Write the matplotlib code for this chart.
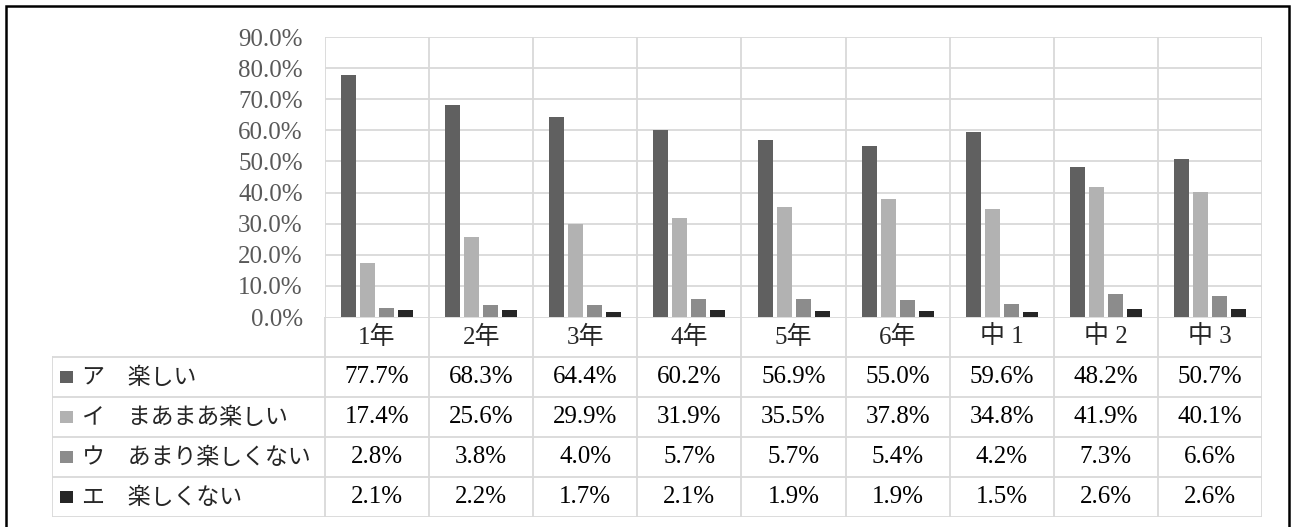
import matplotlib
matplotlib.use("Agg")
import matplotlib.pyplot as plt
from matplotlib.patches import Rectangle
import numpy as np

categories = ["1年", "2年", "3年", "4年", "5年", "6年", "中 1", "中 2", "中 3"]
series_names = ["ア　楽しい", "イ　まあまあ楽しい", "ウ　あまり楽しくない", "エ　楽しくない"]
tanoshii = [77.7, 68.3, 64.4, 60.2, 56.9, 55.0, 59.6, 48.2, 50.7]
maamaa = [17.4, 25.6, 29.9, 31.9, 35.5, 37.8, 34.8, 41.9, 40.1]
amari = [2.8, 3.8, 4.0, 5.7, 5.7, 5.4, 4.2, 7.3, 6.6]
tanoshikunai = [2.1, 2.2, 1.7, 2.1, 1.9, 1.9, 1.5, 2.6, 2.6]
series = [tanoshii, maamaa, amari, tanoshikunai]
colors = ["#606060", "#b2b2b2", "#8c8c8c", "#262626"]

W, H = 1292, 527
FONT = ["Liberation Serif", "Noto Sans CJK JP", "DejaVu Sans"]
JP = ["Noto Sans CJK JP", "DejaVu Sans"]
GRID = "#d9d9d9"

fig = plt.figure(figsize=(W / 100, H / 100), dpi=100)

# pixel layout
px_left, px_right = 325, 1262
px_top, px_zero, px_bottom = 37, 317, 517
px_tab_left = 52
unit = (px_right - px_left) / len(categories)

ax = fig.add_axes([px_left / W, (H - px_zero) / H, (px_right - px_left) / W, (px_zero - px_top) / H])
n = len(categories)
x = np.arange(n)
step = 19 / unit
width = 15 / unit
for i, (vals, c) in enumerate(zip(series, colors)):
    ax.bar(x + 0.5 + (i - 1.5) * step, vals, width=width, color=c, zorder=3)

ax.set_xlim(0, n)
ax.set_ylim(0, 90)
ax.set_yticks(np.arange(0, 91, 10))
ax.set_yticklabels([f"{v:.1f}%" for v in np.arange(0, 91, 10)], family=FONT,
                   fontsize=18, color="#595959")
ax.tick_params(axis="y", length=0, pad=16)
ax.set_xticks([])
for v in np.arange(10, 91, 10):
    ax.axhline(v, color=GRID, lw=1.3, zorder=1)
for j in range(n + 1):
    ax.axvline(j, color=GRID, lw=1.3, zorder=1)
for s in ax.spines.values():
    s.set_visible(False)

# data table
tab = fig.add_axes([px_tab_left / W, (H - px_bottom) / H, (px_right - px_tab_left) / W,
                    (px_bottom - px_zero) / H])
leg_w = (px_left - px_tab_left) / unit
tab.set_xlim(-leg_w, n)
tab.set_ylim(5, 0)
tab.axis("off")

# grid lines of table
tab.plot([0, n], [0, 0], color=GRID, lw=1.3)
for r in range(1, 6):
    tab.plot([-leg_w, n], [r, r], color=GRID, lw=1.3)
tab.plot([-leg_w, -leg_w], [1, 5], color=GRID, lw=1.3)
for j in range(n + 1):
    tab.plot([j, j], [0, 5], color=GRID, lw=1.3)

for j, cat in enumerate(categories):
    tab.text(j + 0.5, 0.5, cat, ha="center", va="center", fontsize=18,
             family=FONT, color="#262626")

for i, (name, vals, c) in enumerate(zip(series_names, series, colors)):
    r = i + 1
    sq0 = (60 - px_left) / unit
    tab.add_patch(Rectangle((sq0, r + 0.5 - 0.16), 13 / unit, 0.32, color=c, lw=0))
    tab.text((82 - px_left) / unit, r + 0.5, name, ha="left", va="center",
             fontsize=16.5, family=JP, color="#262626")
    for j, v in enumerate(vals):
        tab.text(j + 0.5, r + 0.5, f"{v:.1f}%", ha="center", va="center",
                 fontsize=18, family=FONT, color="black")

# outer border
fig.add_artist(Rectangle((5.5 / W, -0.05), (1289 - 5.5) / W, (H - 6) / H + 0.05,
                         transform=fig.transFigure, fill=False, ec="black", lw=1.8))

fig.savefig("out.png", dpi=100)
